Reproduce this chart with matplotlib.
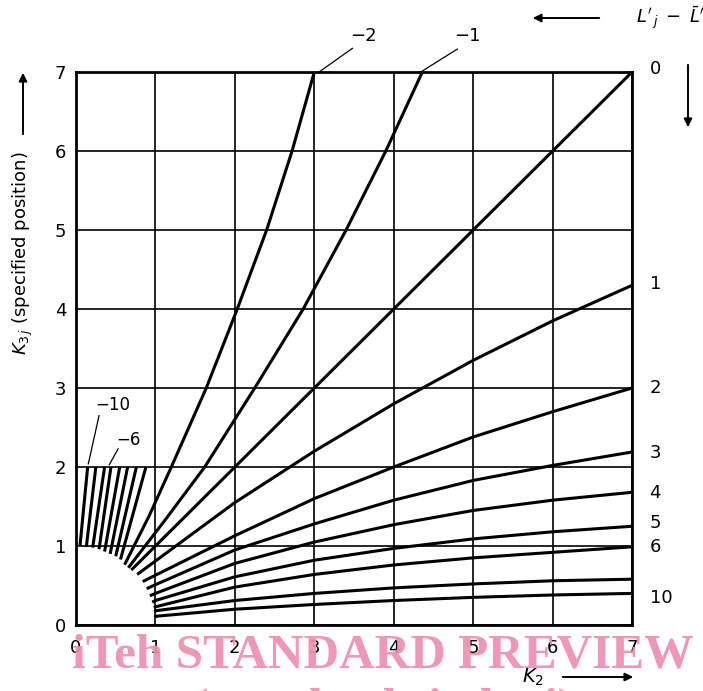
import matplotlib
matplotlib.use('Agg')
import matplotlib.pyplot as plt

# short curves -10 .. -3: start on the arc, end on K3j = 2
short_labels = [-10, -9, -8, -7, -6, -5, -4, -3]
short_start_x = [0.05, 0.13, 0.21, 0.29, 0.36, 0.43, 0.50, 0.56]
short_start_y = [1.00, 0.99, 0.98, 0.96, 0.93, 0.90, 0.87, 0.83]
short_end_x = [0.147, 0.25, 0.36, 0.44, 0.55, 0.65, 0.76, 0.88]

# long curves -2, -1, 0 (end on the top edge)
m2_x = [0.62, 0.92, 1.20, 1.64, 2.03, 2.40, 2.72, 3.00]
m2_y = [0.78, 1.38, 2.00, 3.00, 4.00, 5.00, 6.00, 7.00]
m1_x = [0.67, 1.10, 1.62, 2.25, 2.86, 3.40, 3.90, 4.36]
m1_y = [0.74, 1.30, 2.00, 3.00, 4.00, 5.00, 6.00, 7.00]
zero_x = [0.71, 7.0]
zero_y = [0.71, 7.0]

# positive curves, read at K2 = 1..7
k2_grid = [1, 2, 3, 4, 5, 6, 7]
pos_labels = [1, 2, 3, 4, 5, 6, 8, 10]
pos_start_x = [0.77, 0.84, 0.89, 0.93, 0.96, 0.98, 0.985, 0.995]
pos_start_y = [0.64, 0.55, 0.46, 0.37, 0.29, 0.22, 0.17, 0.10]
y_p1 = [0.81, 1.55, 2.20, 2.80, 3.35, 3.85, 4.30]
y_p2 = [0.63, 1.13, 1.60, 2.00, 2.38, 2.70, 3.00]
y_p3 = [0.51, 0.95, 1.28, 1.58, 1.83, 2.02, 2.19]
y_p4 = [0.40, 0.78, 1.05, 1.27, 1.45, 1.58, 1.68]
y_p5 = [0.31, 0.61, 0.82, 0.97, 1.09, 1.18, 1.25]
y_p6 = [0.23, 0.48, 0.64, 0.76, 0.85, 0.92, 0.99]
y_p8 = [0.18, 0.31, 0.40, 0.47, 0.52, 0.56, 0.58]
y_p10 = [0.11, 0.20, 0.26, 0.31, 0.35, 0.38, 0.40]
pos_values = [y_p1, y_p2, y_p3, y_p4, y_p5, y_p6, y_p8, y_p10]

# labels on the right edge
right_labels = ['0', '1', '2', '3', '4', '5', '6', '10']
right_label_y = [7.04, 4.32, 3.00, 2.18, 1.67, 1.29, 0.99, 0.34]

ticks = [0, 1, 2, 3, 4, 5, 6, 7]

plt.rcParams['font.family'] = ['DejaVu Sans']
fig = plt.figure(figsize=(7.03, 6.91), dpi=100)
ax = fig.add_axes([0.1081, 0.0955, 0.791, 0.8003])
ax.set_xlim(0, 7)
ax.set_ylim(0, 7)
ax.set_xticks(ticks)
ax.set_yticks(ticks)
ax.tick_params(length=0, labelsize=13, pad=7)
ax.tick_params(axis='x', pad=10)
ax.grid(True, color='black', linewidth=1.2)
ax.set_axisbelow(True)
for s in ax.spines.values():
    s.set_linewidth(2.0)

lw = 2.2
for i in range(len(short_labels)):
    ax.plot([short_start_x[i], short_end_x[i]], [short_start_y[i], 2.0],
            color='black', lw=lw, solid_capstyle='butt')
ax.plot(m2_x, m2_y, color='black', lw=lw)
ax.plot(m1_x, m1_y, color='black', lw=lw)
ax.plot(zero_x, zero_y, color='black', lw=lw)
for i, vals in enumerate(pos_values):
    ax.plot([pos_start_x[i]] + k2_grid, [pos_start_y[i]] + vals,
            color='black', lw=lw, solid_capstyle='butt')

for lab, y in zip(right_labels, right_label_y):
    ax.text(7.22, y, lab, fontsize=13, ha='left', va='center', clip_on=False)

# leader labels
ax.text(0.46, 2.79, '\u221210', fontsize=12, ha='center', va='center')
ax.plot([0.29, 0.155], [2.65, 2.04], color='black', lw=0.9)
ax.text(0.66, 2.34, '\u22126', fontsize=12, ha='center', va='center')
ax.plot([0.53, 0.42], [2.23, 2.03], color='black', lw=0.9)
ax.text(3.62, 7.46, '\u22122', fontsize=13, ha='center', va='center', clip_on=False)
ax.plot([3.48, 3.06], [7.30, 7.0], color='black', lw=0.9, clip_on=False)
ax.text(4.93, 7.46, '\u22121', fontsize=13, ha='center', va='center', clip_on=False)
ax.plot([4.80, 4.34], [7.29, 7.0], color='black', lw=0.9, clip_on=False)

# axis titles and arrows
fig.text(23 / 703, 1 - 253 / 691, r"$K_{3\,j}$ (specified position)",
         rotation=90, fontsize=13, ha='center', va='center')
fig.text(533 / 703, 1 - 677 / 691, r"$K_2$", fontsize=14, ha='center', va='center')
fig.text(636 / 703, 1 - 18 / 691, r"$L'_{\,j}\;-\;\bar{L}'$", fontsize=13,
         ha='left', va='center')

arrow = dict(arrowstyle='-|>', color='black', lw=1.4, mutation_scale=12)
ax.annotate('', xy=(23, 691 - 70), xytext=(23, 691 - 137),
            xycoords='figure pixels', textcoords='figure pixels', arrowprops=arrow)
ax.annotate('', xy=(636, 691 - 677), xytext=(560, 691 - 677),
            xycoords='figure pixels', textcoords='figure pixels', arrowprops=arrow)
ax.annotate('', xy=(530, 691 - 18), xytext=(602, 691 - 18),
            xycoords='figure pixels', textcoords='figure pixels', arrowprops=arrow)
ax.annotate('', xy=(688, 691 - 130), xytext=(688, 691 - 62),
            xycoords='figure pixels', textcoords='figure pixels', arrowprops=arrow)

# watermark
fig.text(383 / 703, 1 - 655 / 691, 'iTeh STANDARD PREVIEW', fontsize=35.5,
         fontweight='bold', family='Liberation Serif', color='#ee8fb0',
         ha='center', va='center', alpha=0.92)
fig.text(383 / 703, 1 - 710 / 691, '(standards.iteh.ai)', fontsize=35.5,
         fontweight='bold', family='Liberation Serif', color='#ee8fb0',
         ha='center', va='center', alpha=0.92)

fig.savefig('out.png', dpi=100)
